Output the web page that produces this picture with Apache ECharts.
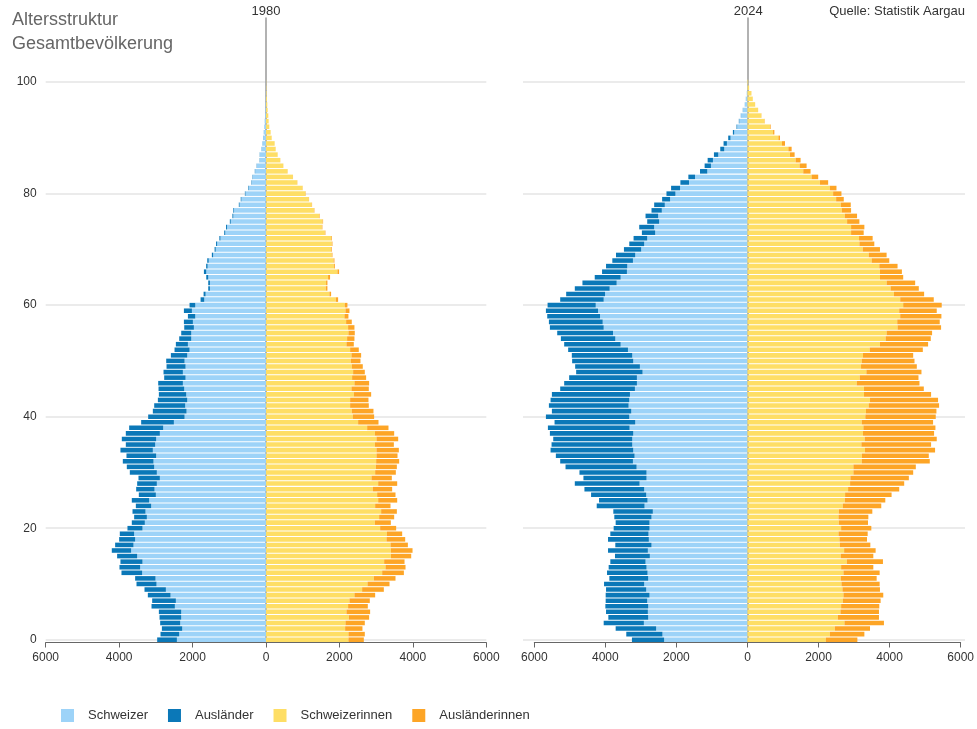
<!DOCTYPE html>
<html><head><meta charset="utf-8">
<script src="https://cdn.jsdelivr.net/npm/echarts@6/dist/echarts.min.js"></script>
<style>html,body{margin:0;padding:0;background:#fff}#c{width:977px;height:729px}</style>
</head><body><div id="c"></div>
<script>
// Age categories 0..100
const ages = Array.from({length: 101}, (_, i) => String(i));
const yTicks = [0, 20, 40, 60, 80, 100];
const xTickLabels = [6000, 4000, 2000, 0, 2000, 4000, 6000];
const years = ['1980', '2024'];
const seriesNames = ['Schweizer', 'Ausländer', 'Schweizerinnen', 'Ausländerinnen'];

// 1980
const m80CH = [2427,2364,2282,2336,2309,2309,2482,2455,2600,2727,
 2982,3009,3373,3427,3364,3509,3673,3609,3564,3591,
 3364,3300,3245,3282,3127,3182,3000,3036,2973,2891,
 2973,3045,3064,2991,3082,3018,2991,2891,2800,2509,
 2218,2164,2200,2145,2173,2227,2264,2191,2264,2191,
 2218,2145,2082,2127,2036,2036,1964,1991,1927,2018,
 1927,1682,1645,1527,1527,1573,1627,1590,1560,1440,
 1370,1330,1240,1110,1060,960,890,870,720,670,
 560,470,385,360,295,245,165,165,120,95,
 78,60,45,35,25,18,12,8,5,3,2];
const m80AUS = [537,509,554,546,591,609,636,645,618,582,
 545,555,563,564,600,546,527,500,436,391,
 409,355,346,354,418,473,464,500,536,582,
 736,746,836,809,882,800,936,927,927,891,
 991,918,845,800,745,700,672,582,527,518,
 500,446,409,328,328,273,263,245,200,218,
 155,100,55,46,46,54,64,40,40,35,
 30,30,30,28,28,25,25,20,20,18,
 15,15,12,10,10,8,8,6,5,4,
 3,2,2,1,1,1,0,0,0,0,0];
const f80CH = [2245,2245,2155,2164,2255,2191,2236,2273,2409,2618,
 2764,2936,3164,3255,3218,3400,3400,3391,3282,3291,
 3109,2964,3082,3136,2973,3055,3027,2909,3055,2873,
 2973,2991,3000,3009,3009,2964,3009,2964,2755,2509,
 2364,2336,2291,2291,2391,2327,2409,2345,2373,2336,
 2309,2327,2291,2191,2209,2245,2236,2182,2136,2164,
 2145,1900,1727,1627,1636,1691,1945,1850,1840,1790,
 1770,1790,1770,1600,1520,1540,1450,1305,1245,1165,
 1075,995,850,732,588,470,389,316,263,235,
 154,126,90,72,63,45,35,25,15,10,5];
const f80AUS = [419,446,472,527,554,645,537,554,564,591,
 600,591,591,545,555,555,591,473,509,418,
 436,436,409,428,418,518,500,527,518,554,
 563,573,627,573,609,518,591,527,581,555,
 581,591,509,500,473,473,400,382,318,300,
 264,264,236,200,200,173,173,154,109,109,
 73,64,46,46,37,54,46,25,24,20,
 20,20,20,18,16,15,14,13,10,8,
 8,5,5,4,3,3,2,2,1,1,
 1,1,0,0,0,0,0,0,0,0,0];

// 2024
const m24CH = [2346,2393,2570,2916,2794,2804,2794,2822,2757,2850,
 2907,2794,2813,2841,2869,2748,2804,2701,2776,2785,
 2757,2757,2701,2664,2897,2813,2850,2907,3037,2841,
 2841,3121,3224,3178,3215,3243,3243,3215,3318,3159,
 3327,3271,3346,3327,3308,3168,3112,3112,2953,3028,
 3215,3243,3364,3570,3720,3785,4047,4075,4150,4206,
 4271,4047,4009,3879,3682,3570,3393,3383,3224,3159,
 2991,2907,2822,2598,2626,2486,2514,2411,2327,2178,
 2028,1897,1645,1477,1131,1028,972,822,654,579,
 477,374,290,230,180,125,72,45,20,10,5];
const m24AUS = [906,1018,1140,1131,1122,1177,1206,1169,1234,1131,
 1130,1094,1140,1066,991,981,1121,1019,1149,1075,
 1009,953,1047,1112,1346,1365,1552,1682,1823,1776,
 1888,2000,2047,2215,2327,2271,2224,2346,2299,2271,
 2346,2234,2243,2215,2197,2103,2047,1907,1869,1822,
 1720,1701,1683,1589,1532,1570,1514,1514,1486,1467,
 1355,1224,1094,981,963,729,700,598,580,542,
 486,420,384,374,421,336,355,290,299,224,
 252,253,243,187,205,178,149,122,112,94,
 65,37,18,13,7,6,3,2,1,0,0];
const f24CH = [2206,2318,2458,2729,2542,2617,2636,2682,2701,2673,
 2645,2626,2701,2636,2794,2626,2720,2598,2589,2561,
 2636,2570,2561,2570,2682,2738,2748,2832,2888,2897,
 2981,2981,3215,3220,3308,3206,3299,3252,3262,3215,
 3318,3336,3411,3449,3280,3280,3075,3159,3346,3196,
 3215,3252,3439,3729,3888,3916,4224,4215,4299,4271,
 4383,4299,4121,4028,3916,3729,3729,3710,3495,3411,
 3243,3150,3140,2916,2916,2804,2738,2654,2626,2495,
 2411,2318,2037,1804,1570,1467,1355,1196,1150,972,
 869,720,636,480,390,295,212,148,110,45,20];
const f24AUS = [887,972,991,1112,1159,1084,1074,1066,1121,1056,
 1075,1010,1019,906,1019,916,887,860,775,822,
 850,823,841,944,1084,1141,1308,1439,1523,1645,
 1683,1757,1916,1883,1972,1962,2028,2000,2028,2009,
 1981,1982,1982,1915,1888,1683,1766,1654,1551,1570,
 1486,1412,1496,1355,1271,1280,1225,1196,1159,1056,
 1084,944,851,794,804,654,617,514,496,505,
 486,420,383,355,374,346,346,262,281,215,
 234,187,234,187,206,197,140,131,93,84,
 47,37,18,8,5,4,3,2,2,1,0];

const colors = ['#9dd3f8', '#0b78b8', '#fede65', '#fda526'];
const FONT = 'Liberation Sans, Arial, sans-serif';

// layout
const bottomY = 642.5, topY = 18, nCat = 112;
const band = (bottomY - topY) / nCat;
const gTop = bottomY - 100.5 * band;
const gBottomY = bottomY - 0.5 * band;
const panels = [
  {left: 45.7, right: 486.3, gl: 45.7, gr: 486.3, labels: true},
  {left: 534.3, right: 962.7, gl: 523, gr: 965, labels: false}
];

const grid = [], xAxis = [], yAxis = [], series = [];
const panelData = [[m80CH, m80AUS, f80CH, f80AUS], [m24CH, m24AUS, f24CH, f24AUS]];

panels.forEach((p, i) => {
  grid.push({left: p.left, width: p.right - p.left, top: topY, height: bottomY - topY});
  grid.push({left: p.gl, width: p.gr - p.gl, top: gTop, height: gBottomY - gTop});
  xAxis.push({
    type: 'value', gridIndex: 2 * i, min: -6000, max: 6000, interval: 2000,
    axisLine: {show: true, onZero: false, lineStyle: {color: '#666', width: 1}},
    axisTick: {show: true, length: 5, lineStyle: {color: '#666'}},
    splitLine: {show: false},
    axisLabel: {color: '#333', fontSize: 12, fontFamily: FONT, margin: 9,
      formatter: v => String(xTickLabels[(v + 6000) / 2000])}
  });
  xAxis.push({type: 'value', gridIndex: 2 * i + 1, min: -6000, max: 6000, show: false});
  yAxis.push({
    type: 'category', gridIndex: 2 * i, data: ages, max: nCat - 1,
    axisLine: {show: true, onZero: true, lineStyle: {color: '#999', width: 1.5}},
    axisTick: {show: false}, axisLabel: {show: false}, splitLine: {show: false}
  });
  yAxis.push({
    type: 'value', gridIndex: 2 * i + 1, min: yTicks[0], max: yTicks[yTicks.length - 1], interval: 20,
    axisLine: {show: false}, axisTick: {show: false},
    splitLine: {show: true, lineStyle: {color: '#ebebeb', width: 2}},
    axisLabel: {show: p.labels, color: '#333', fontSize: 12, fontFamily: FONT, margin: 9}
  });
  const d = panelData[i];
  seriesNames.forEach((name, k) => {
    const neg = k < 2;
    series.push({
      name, type: 'bar', xAxisIndex: 2 * i, yAxisIndex: 2 * i, stack: 'p' + i,
      barCategoryGap: '18%',
      itemStyle: {color: colors[k]},
      emphasis: {disabled: true},
      data: d[k].map(v => neg ? -v : v)
    });
  });
});

const chart = echarts.init(document.getElementById('c'), null, {renderer: 'canvas'});
chart.setOption({
  animation: false,
  color: colors,
  textStyle: {fontFamily: FONT},
  title: {
    text: 'Altersstruktur\nGesamtbevölkerung', left: 7, top: 3,
    textStyle: {fontSize: 18, fontWeight: 'normal', color: '#666', lineHeight: 24, fontFamily: FONT}
  },
  legend: {
    data: seriesNames, left: 56, bottom: 2, icon: 'rect', itemWidth: 13, itemHeight: 13, itemGap: 20,
    textStyle: {fontSize: 13, color: '#333', fontFamily: FONT, padding: [0, 0, 0, 9]}
  },
  graphic: [
    {type: 'text', x: 266, y: 5, style: {text: years[0], align: 'center', fill: '#333', font: '13px ' + FONT}},
    {type: 'text', x: 748.3, y: 5, style: {text: years[1], align: 'center', fill: '#333', font: '13px ' + FONT}},
    {type: 'text', x: 965, y: 5, style: {text: 'Quelle: Statistik Aargau', align: 'right', fill: '#333', font: '13px ' + FONT}}
  ],
  grid, xAxis, yAxis, series
});
</script>
</body></html>
